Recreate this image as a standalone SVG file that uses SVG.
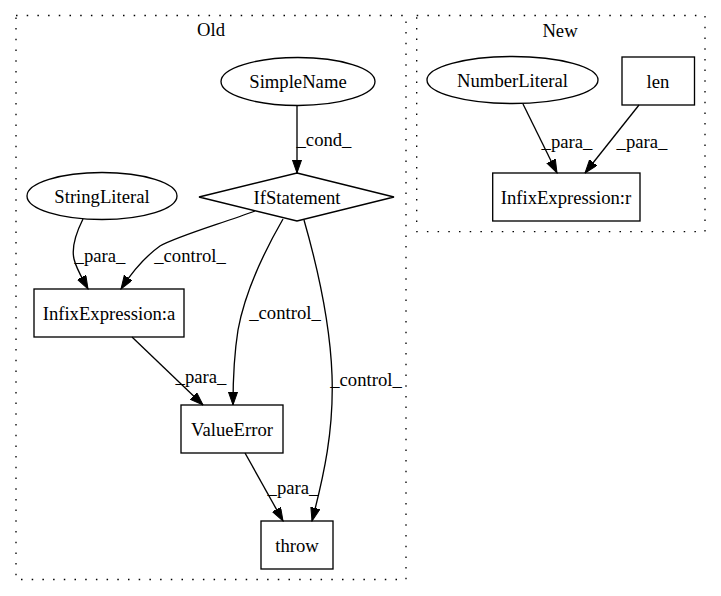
<svg xmlns="http://www.w3.org/2000/svg" width="721" height="596" viewBox="0 0 721 596">
<defs>
<marker id="ah" markerUnits="userSpaceOnUse" markerWidth="14" markerHeight="10" refX="13.3" refY="4.67" orient="auto">
<path d="M0,0 L13.3,4.67 L0,9.33 z" fill="#000" stroke="#000" stroke-width="1"/>
</marker>
<style>
text{font-family:"Liberation Serif","Times New Roman",serif;font-size:18.67px;fill:#000;text-anchor:middle}
.cl{fill:none;stroke:#000;stroke-width:1.33;stroke-dasharray:1.5,9.2}
.n{fill:none;stroke:#000;stroke-width:1.33}
.e{fill:none;stroke:#000;stroke-width:1.33;marker-end:url(#ah)}
</style>
</defs>
<rect width="721" height="596" fill="#fff"/>
<g id="cluster_old">
<rect class="cl" x="16" y="15.5" width="390" height="564"/>
<text x="211" y="36">Old</text>
</g>
<g id="cluster_new">
<rect class="cl" x="416.7" y="15.5" width="288.3" height="216.2"/>
<text x="560" y="37">New</text>
</g>
<g id="connectors">
<path class="e" d="M297,105.5 L297,173"/>
<text x="324" y="146">_cond_</text>
<path class="e" d="M83,219 C77,231 71,246 74,259 C76,268 81,276 88,289"/>
<text x="100" y="262">_para_</text>
<path class="e" d="M255,211 C220,224 178,236 160,246 C146,256 132,272 121,289"/>
<text x="190" y="262">_control_</text>
<path class="e" d="M283,219 C264,252 245,292 238,330 C234,355 233,380 233,405"/>
<text x="285" y="319">_control_</text>
<path class="e" d="M304,220 C316,262 330,320 332,375 C334,430 324,475 312,521"/>
<text x="366" y="386">_control_</text>
<path class="e" d="M132,337 L203,405"/>
<text x="201" y="383">_para_</text>
<path class="e" d="M245,453 L283,521"/>
<text x="293" y="494">_para_</text>
<path class="e" d="M523,104 L557,173"/>
<text x="567" y="148">_para_</text>
<path class="e" d="M639,105 L585,173"/>
<text x="642" y="148">_para_</text>
</g>
<g id="SimpleName">
<ellipse class="n" cx="298" cy="81.5" rx="77" ry="24"/>
<text x="298" y="88">SimpleName</text>
</g>
<g id="IfStatement">
<polygon class="n" points="297,173 394,197 297,221 199,197"/>
<text x="297" y="203.5">IfStatement</text>
</g>
<g id="StringLiteral">
<ellipse class="n" cx="102" cy="196" rx="75" ry="23.5"/>
<text x="102" y="202.5">StringLiteral</text>
</g>
<g id="InfixExpression_a">
<rect class="n" x="34" y="289" width="150" height="48"/>
<text x="109" y="319.5">InfixExpression:a</text>
</g>
<g id="ValueError">
<rect class="n" x="181" y="405" width="102" height="48"/>
<text x="232" y="435.5">ValueError</text>
</g>
<g id="throw">
<rect class="n" x="261" y="521" width="72" height="48"/>
<text x="297" y="551.5">throw</text>
</g>
<g id="NumberLiteral">
<ellipse class="n" cx="512.5" cy="80" rx="85.5" ry="23.5"/>
<text x="512.5" y="86.5">NumberLiteral</text>
</g>
<g id="len">
<rect class="n" x="622" y="57" width="72.5" height="48"/>
<text x="658" y="87.5">len</text>
</g>
<g id="InfixExpression_r">
<rect class="n" x="492.7" y="173" width="147.3" height="48"/>
<text x="566" y="203.5">InfixExpression:r</text>
</g>
</svg>
